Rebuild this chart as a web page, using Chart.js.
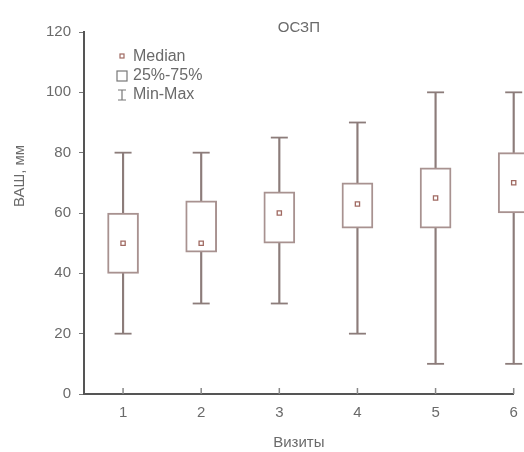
<!DOCTYPE html>
<html>
<head>
<meta charset="utf-8">
<script src="https://cdn.jsdelivr.net/npm/chart.js@4.4.0/dist/chart.umd.min.js"></script>
<style>
  html, body { margin: 0; padding: 0; background: #fff; }
  #wrap { width: 524px; height: 452px; }
</style>
</head>
<body>
<div id="wrap"><canvas id="chart"></canvas></div>
<script>
// visits on the x axis
const visits = [1, 2, 3, 4, 5, 6];
// pain scale values per visit (mm)
const minVals = [20, 30, 30, 20, 10, 10];
const q1Vals = [40, 47, 50, 55, 55, 60];
const medianVals = [50, 50, 60, 63, 65, 70];
const q3Vals = [60, 64, 67, 70, 75, 80];
const maxVals = [80, 80, 85, 90, 100, 100];
const yTicks = [0, 20, 40, 60, 80, 100, 120];

const boxColor = '#a89290';
const whiskerColor = '#8c7c7a';
const medianColor = '#a06a62';
const textColor = '#6a6a6a';
const axisColor = '#555555';
const fontFamily = '"Liberation Sans", Arial, sans-serif';

// legend inside the plot, y title, inward x ticks
const extras = {
    id: 'extras',
    afterDraw(chart) {
        const ctx = chart.ctx;
        const area = chart.chartArea;
        const xs = chart.scales.x;
        ctx.save();
        ctx.strokeStyle = '#888';
        ctx.lineWidth = 1.5;
        visits.forEach(v => {
            const px = xs.getPixelForValue(v);
            ctx.beginPath();
            ctx.moveTo(px, area.bottom);
            ctx.lineTo(px, area.bottom - 6);
            ctx.stroke();
        });

        // y axis title sits above the middle of the axis
        ctx.save();
        ctx.translate(area.left - 64, area.top + 144);
        ctx.rotate(-Math.PI / 2);
        ctx.font = '15px ' + fontFamily;
        ctx.fillStyle = textColor;
        ctx.textAlign = 'center';
        ctx.textBaseline = 'middle';
        ctx.fillText('ВАШ, мм', 0, 0);
        ctx.restore();

        const sx = area.left + 38;
        const tx = area.left + 49;
        const y0 = area.top + 25;
        ctx.font = '16px ' + fontFamily;
        ctx.fillStyle = textColor;
        ctx.textBaseline = 'middle';
        ctx.fillText('Median', tx, y0);
        ctx.fillText('25%-75%', tx, y0 + 19);
        ctx.fillText('Min-Max', tx, y0 + 38);

        ctx.strokeStyle = medianColor;
        ctx.lineWidth = 1.2;
        ctx.strokeRect(sx - 2, y0 - 3, 4, 4);

        ctx.strokeStyle = '#777';
        ctx.strokeRect(sx - 5, y0 + 14, 10, 10);

        ctx.beginPath();
        ctx.moveTo(sx - 4, y0 + 33); ctx.lineTo(sx + 4, y0 + 33);
        ctx.moveTo(sx, y0 + 33); ctx.lineTo(sx, y0 + 43);
        ctx.moveTo(sx - 4, y0 + 43); ctx.lineTo(sx + 4, y0 + 43);
        ctx.stroke();
        ctx.restore();
    }
};

const ctx = document.getElementById('chart').getContext('2d');
new Chart(ctx, {
    type: 'bar',
    data: {
        datasets: [
            {
                type: 'scatter',
                label: 'Median',
                data: visits.map((v, i) => ({ x: v, y: medianVals[i] })),
                pointStyle: 'rect',
                pointRadius: 3,
                pointBackgroundColor: '#fff',
                pointBorderColor: medianColor,
                pointBorderWidth: 1.3,
                clip: false
            },
            {
                type: 'scatter',
                label: 'Caps',
                data: visits.map((v, i) => ({ x: v, y: maxVals[i] }))
                    .concat(visits.map((v, i) => ({ x: v, y: minVals[i] }))),
                pointStyle: 'line',
                pointRadius: 8.5,
                pointBorderColor: whiskerColor,
                pointBorderWidth: 1.8,
                clip: false
            },
            {
                label: '25%-75%',
                data: visits.map((v, i) => ({ x: v, y: [q1Vals[i], q3Vals[i]] })),
                backgroundColor: 'rgba(255,255,255,0)',
                borderColor: boxColor,
                borderWidth: 1.3,
                borderSkipped: false,
                barThickness: 31,
                grouped: false,
                clip: false
            },
            {
                label: 'Upper',
                data: visits.map((v, i) => ({ x: v, y: [q3Vals[i], maxVals[i]] })),
                backgroundColor: whiskerColor,
                borderWidth: 0,
                barThickness: 1.5,
                grouped: false,
                clip: false
            },
            {
                label: 'Lower',
                data: visits.map((v, i) => ({ x: v, y: [minVals[i], q1Vals[i]] })),
                backgroundColor: whiskerColor,
                borderWidth: 0,
                barThickness: 1.5,
                grouped: false,
                clip: false
            }
        ]
    },
    options: {
        responsive: true,
        maintainAspectRatio: false,
        animation: false,
        layout: { padding: { left: 0, right: 9, top: 0, bottom: 0 } },
        plugins: {
            legend: { display: false },
            tooltip: { enabled: false },
            title: {
                display: true,
                text: 'ОСЗП',
                fullSize: false,
                color: textColor,
                font: { family: fontFamily, size: 15, weight: 'normal' },
                padding: { top: 19, bottom: -5 }
            }
        },
        scales: {
            x: {
                type: 'linear',
                min: 0.5,
                max: 6,
                offset: false,
                afterBuildTicks: s => { s.ticks = visits.map(v => ({ value: v })); },
                afterFit: s => { s.paddingLeft = 0; s.paddingRight = 0; },
                grid: { display: true, offset: false, drawOnChartArea: false, drawTicks: false },
                border: { display: true, color: axisColor, width: 2 },
                ticks: {
                    color: textColor,
                    padding: 10,
                    font: { family: fontFamily, size: 15 }
                },
                title: {
                    display: true,
                    text: 'Визиты',
                    color: textColor,
                    font: { family: fontFamily, size: 15 },
                    padding: { top: 2, bottom: 0 }
                }
            },
            y: {
                min: 0,
                max: 120,
                afterBuildTicks: s => { s.ticks = yTicks.map(v => ({ value: v })); },
                afterFit: s => { s.width = 84; },
                grid: { drawOnChartArea: false, tickLength: 5, color: '#777' },
                border: { display: true, color: axisColor, width: 2 },
                ticks: {
                    color: textColor,
                    padding: 8,
                    font: { family: fontFamily, size: 15 }
                }
            }
        }
    },
    plugins: [extras]
});
</script>
</body>
</html>
